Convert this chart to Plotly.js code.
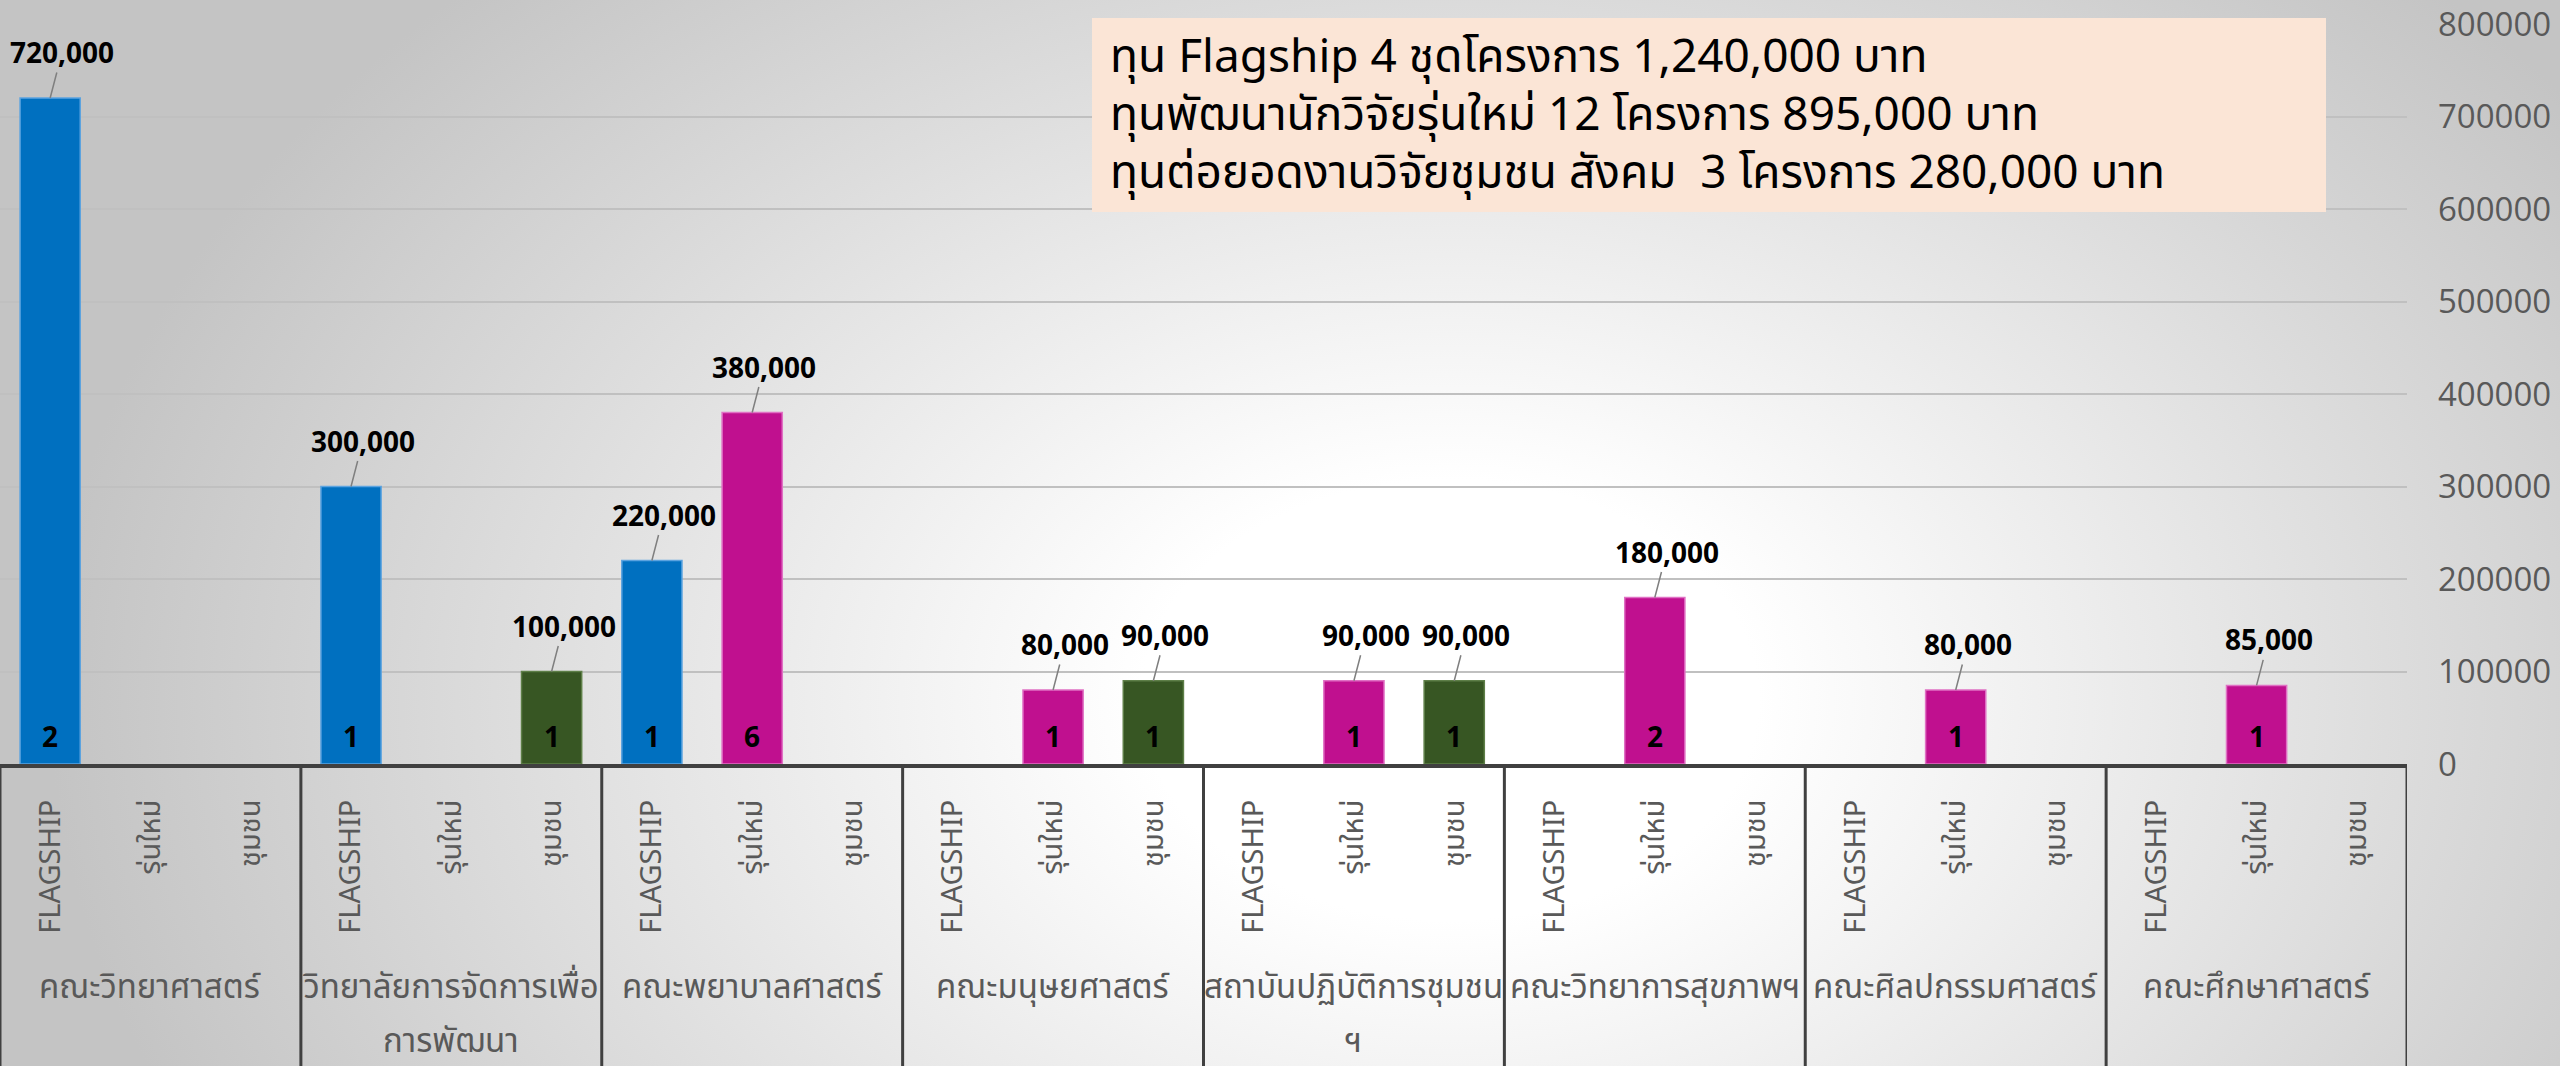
<!DOCTYPE html>
<html>
<head>
<meta charset="utf-8">
<script src="https://cdn.plot.ly/plotly-3.0.1.min.js"></script>
<style>
  html, body { margin: 0; padding: 0; width: 2560px; height: 1066px; overflow: hidden; }
  body {
    background: radial-gradient(ellipse 1400px 1000px at 1450px 700px, #ffffff 0%, #ffffff 22%, #c4c4c4 100%);
  }
  #chart { width: 2560px; height: 1066px; }
</style>
</head>
<body>
<div id="chart"></div>
<script>
// ---- data ----
const groupLines = [
  ['คณะวิทยาศาสตร์'],
  ['วิทยาลัยการจัดการเพื่อ', 'การพัฒนา'],
  ['คณะพยาบาลศาสตร์'],
  ['คณะมนุษยศาสตร์'],
  ['สถาบันปฏิบัติการชุมชน', 'ฯ'],
  ['คณะวิทยาการสุขภาพฯ'],
  ['คณะศิลปกรรมศาสตร์'],
  ['คณะศึกษาศาสตร์']
];
const subTypes = ['FLAGSHIP', 'รุ่นใหม่', 'ชุมชน'];

const flagshipBudget = [720000, 300000, 220000, null, null, null, null, null];
const flagshipCount  = [2, 1, 1, null, null, null, null, null];
const newGenBudget   = [null, null, 380000, 80000, 90000, 180000, 80000, 85000];
const newGenCount    = [null, null, 6, 1, 1, 2, 1, 1];
const communityBudget = [null, 100000, null, 90000, 90000, null, null, null];
const communityCount  = [null, 1, null, 1, 1, null, null, null];

const yMax = 800000;
const yStep = 100000;

const summaryLines = [
  'ทุน Flagship 4 ชุดโครงการ 1,240,000 บาท',
  'ทุนพัฒนานักวิจัยรุ่นใหม่ 12 โครงการ 895,000 บาท',
  'ทุนต่อยอดงานวิจัยชุมชน สังคม&nbsp;&nbsp;3 โครงการ 280,000 บาท'
];

// ---- layout constants ----
const W = 2560, H = 1066;
const M = { l: 0, r: 153, t: 24, b: 302 };
const plotW = W - M.l - M.r;
const plotH = H - M.t - M.b;
const pyFromTop = px => (H - M.b - px) / plotH;   // paper y for a pixel row
const pxFromLeft = px => (px - M.l) / plotW;      // paper x for a pixel column

const thaiFont = "'Noto Sans Thai', 'Noto Sans Thai UI', 'Noto Sans', 'Open Sans', sans-serif";
const numFont = "'Open Sans', 'Noto Sans', sans-serif";

const series = [
  { name: subTypes[0], budget: flagshipBudget, count: flagshipCount, color: '#0070C0', line: '#5BA3E0' },
  { name: subTypes[1], budget: newGenBudget, count: newGenCount, color: '#C0108F', line: '#E070C4' },
  { name: subTypes[2], budget: communityBudget, count: communityCount, color: '#375623', line: '#5E7F48' }
];

const nSub = subTypes.length;
const nGroups = groupLines.length;
const traces = [];
const annotations = [];

series.forEach((s, si) => {
  const xs = groupLines.map((g, gi) => gi * nSub + si);
  traces.push({
    type: 'bar',
    name: s.name,
    x: xs,
    y: s.budget,
    width: 0.6,
    marker: { color: s.color, line: { color: s.line, width: 1.5 } },
    hoverinfo: 'x+y',
    showlegend: false
  });
  s.budget.forEach((v, gi) => {
    if (v === null) return;
    annotations.push({
      x: xs[gi], y: v, xref: 'x', yref: 'y',
      text: v.toLocaleString('en-US'),
      showarrow: true, arrowhead: 0, arrowwidth: 1.5, arrowcolor: '#7f7f7f',
      ax: 12, ay: -46, standoff: 0,
      font: { family: numFont, size: 28, color: '#000000', weight: 700 }
    });
    annotations.push({
      x: xs[gi], y: 0, xref: 'x', yref: 'y',
      text: String(s.count[gi]),
      showarrow: false, yanchor: 'middle', yshift: 28,
      font: { family: numFont, size: 28, color: '#000000', weight: 700 }
    });
  });
});

// group labels (one annotation per line, Thai needs generous line spacing)
groupLines.forEach((lines, gi) => {
  lines.forEach((ln, li) => {
    annotations.push({
      x: gi * nSub + (nSub - 1) / 2, xref: 'x',
      y: pyFromTop(988 + li * 54), yref: 'paper', yanchor: 'middle',
      text: ln, showarrow: false, align: 'center',
      font: { family: thaiFont, size: 33, color: '#595959' }
    });
  });
});

// summary box text
summaryLines.forEach((ln, li) => {
  annotations.push({
    xref: 'paper', yref: 'paper',
    x: pxFromLeft(1108), y: pyFromTop(58 + li * 58),
    xanchor: 'left', yanchor: 'middle',
    text: ln, showarrow: false,
    font: { family: thaiFont, size: 46, color: '#000000' }
  });
});

const shapes = [];
// summary box background
shapes.push({
  type: 'rect', xref: 'paper', yref: 'paper', layer: 'above',
  x0: pxFromLeft(1092), x1: pxFromLeft(2326),
  y0: pyFromTop(212), y1: pyFromTop(18),
  fillcolor: '#FBE5D6', line: { width: 0 }
});
// dividers between groups
for (let gi = 0; gi <= nGroups; gi++) {
  shapes.push({
    type: 'line', xref: 'x', yref: 'paper',
    x0: gi * nSub - 0.5, x1: gi * nSub - 0.5,
    y0: 0, y1: pyFromTop(H),
    line: { color: '#404040', width: 3 }
  });
}

const tickvals = [];
const ticktext = [];
groupLines.forEach((g, gi) => subTypes.forEach((s, si) => { tickvals.push(gi * nSub + si); ticktext.push(s); }));

const layout = {
  width: W, height: H,
  margin: M,
  paper_bgcolor: 'rgba(0,0,0,0)',
  plot_bgcolor: 'rgba(0,0,0,0)',
  barmode: 'overlay',
  xaxis: {
    range: [-0.5, nGroups * nSub - 0.5],
    tickmode: 'array', tickvals: tickvals, ticktext: ticktext,
    tickangle: -90,
    tickfont: { family: thaiFont, size: 29, color: '#595959' },
    ticks: '', ticklabelstandoff: 20,
    showgrid: false, zeroline: false,
    showline: true, linecolor: '#404040', linewidth: 4,
    fixedrange: true, automargin: false
  },
  yaxis: {
    side: 'right',
    range: [0, yMax], dtick: yStep, tick0: 0,
    tickformat: 'd',
    tickfont: { family: numFont, size: 33, color: '#595959' },
    ticks: '', ticklabelstandoff: 30,
    showgrid: true, gridcolor: '#c0c0c0', gridwidth: 2,
    zeroline: false, showline: false,
    fixedrange: true, automargin: false
  },
  annotations: annotations,
  shapes: shapes,
  showlegend: false
};

Plotly.newPlot('chart', traces, layout, { displayModeBar: false, staticPlot: true });
</script>
</body>
</html>
